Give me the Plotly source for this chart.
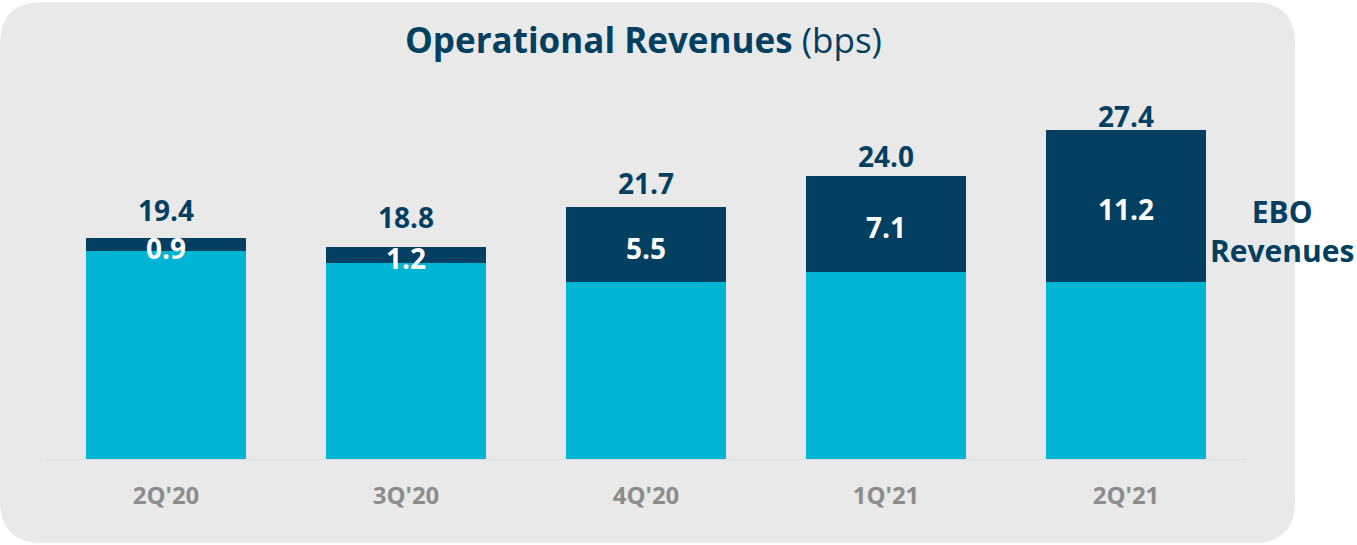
import plotly.graph_objects as go

categories = ["2Q'20", "3Q'20", "4Q'20", "1Q'21", "2Q'21"]
totals = [19.4, 18.8, 21.7, 24.0, 27.4]
ebo = [0.9, 1.2, 5.5, 7.1, 11.2]
base = [round(t - e, 1) for t, e in zip(totals, ebo)]

W, H = 1357, 545
NAVY = "#023f60"
CYAN = "#00b4d3"
FONT = "Segoe UI, Open Sans, Noto Sans, sans-serif"

fig = go.Figure()
fig.add_trace(go.Bar(x=categories, y=base, marker=dict(color=CYAN, line=dict(width=0)),
                     width=0.667, hoverinfo="skip"))
fig.add_trace(go.Bar(x=categories, y=ebo, marker=dict(color=NAVY, line=dict(width=0)),
                     width=0.667, hoverinfo="skip"))

annotations = []
# total labels sit on their own (label) scale, as in the original slide
for c, t in zip(categories, totals):
    annotations.append(dict(x=c, y=t, xref="x", yref="y2", text=f"<b>{t:.1f}</b>",
                            showarrow=False, yanchor="middle",
                            font=dict(family=FONT, size=28, color=NAVY)))
for c, b, e in zip(categories, base, ebo):
    annotations.append(dict(x=c, y=b + e / 2, xref="x", yref="y", text=f"<b>{e:.1f}</b>",
                            showarrow=False, yanchor="middle", yshift=-3,
                            font=dict(family=FONT, size=28, color="white")))
annotations.append(dict(x=643 / W, y=1 - 39 / H, xref="paper", yref="paper",
                        text="<b>Operational Revenues</b> (bps)", showarrow=False,
                        xanchor="center", yanchor="middle",
                        font=dict(family=FONT, size=35, color=NAVY)))
annotations.append(dict(x=1282 / W, y=1 - 231 / H, xref="paper", yref="paper",
                        text="<b>EBO</b><br><b>Revenues</b>", showarrow=False,
                        xanchor="center", yanchor="middle", align="center",
                        font=dict(family=FONT, size=30, color=NAVY)))

# rounded background panel
x0, x1 = 0 / W, 1295 / W
y0, y1 = 1 - 543 / H, 1 - 2 / H
rx, ry = 42 / W, 42 / H
path = (f"M {x0+rx},{y0} L {x1-rx},{y0} Q {x1},{y0} {x1},{y0+ry} "
        f"L {x1},{y1-ry} Q {x1},{y1} {x1-rx},{y1} L {x0+rx},{y1} "
        f"Q {x0},{y1} {x0},{y1-ry} L {x0},{y0+ry} Q {x0},{y0} {x0+rx},{y0} Z")

ymin = 3.15
ymax = ymin + 459 / 13.57
# label scale: zero at 438 px from top, 11.75 px per unit
l_min = -(459 - 438) / 11.75
l_max = 438 / 11.75

fig.update_layout(
    width=W, height=H,
    barmode="stack",
    showlegend=False,
    paper_bgcolor="white",
    plot_bgcolor="rgba(0,0,0,0)",
    margin=dict(l=0, r=0, t=0, b=0, pad=0),
    shapes=[dict(type="path", path=path, xref="paper", yref="paper",
                 fillcolor="#e9e9e9", line=dict(width=0), layer="below")],
    annotations=annotations,
    xaxis=dict(domain=[46 / W, 1246 / W], range=[-0.5, 4.5], showline=True,
               linecolor="#dcdcdc", linewidth=1, showgrid=False, zeroline=False,
               ticks="", ticklabelstandoff=15, automargin=False,
               tickfont=dict(family=FONT, size=24, color="#8c8c8c"),
               tickprefix="<b>", ticksuffix="</b>"),
    yaxis=dict(domain=[1 - 459 / H, 1], range=[ymin, ymax], visible=False,
               showgrid=False, zeroline=False, automargin=False),
    yaxis2=dict(domain=[1 - 459 / H, 1], range=[l_min, l_max], visible=False,
                overlaying="y", showgrid=False, zeroline=False, automargin=False),
)

fig.write_html("out.html", config={"displayModeBar": False},
               post_script="document.body.style.margin='0';")
